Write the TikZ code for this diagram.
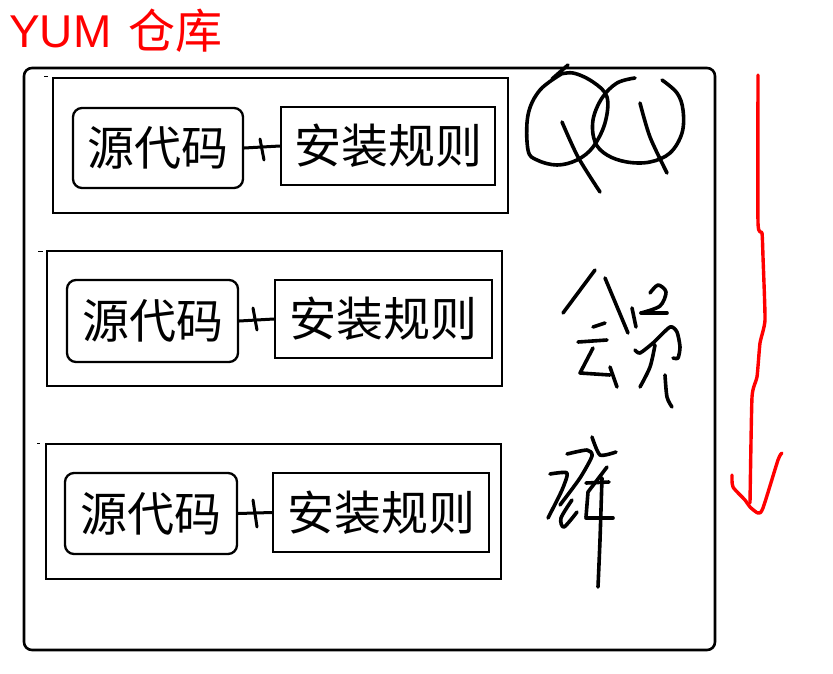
\documentclass[tikz,border=0pt]{standalone}
\usepackage{fontspec}
\setmainfont{Noto Sans CJK SC}
\newfontfamily\latinfont{Liberation Sans}
\begin{document}
\begin{tikzpicture}[x=1pt,y=-1pt,
 outerbox/.style={draw=black, line width=2.6pt, rounded corners=8pt},
 groupbox/.style={draw=black, line width=2.3pt, minimum width=455pt, minimum height=135pt, inner sep=0pt},
 srcbox/.style={draw=black, line width=2.3pt, rounded corners=9pt, inner sep=0pt, font=\fontsize{47}{50}\selectfont},
 rulebox/.style={draw=black, line width=2.3pt, inner sep=0pt, font=\fontsize{47}{50}\selectfont},
 plusline/.style={line width=3pt, line cap=round},
 ink/.style={line width=3.6pt, line cap=round, line join=round},
 redink/.style={draw=red, line width=3.4pt, line cap=round, line join=round},
 tickmark/.style={line width=1pt}
]
\useasboundingbox (0,0) rectangle (833,673);
\fill[white] (0,0) rectangle (833,673);

% title
\node[anchor=base west, text=red, inner sep=0pt, font=\latinfont\fontsize{46}{50}\selectfont] (title) at (9,47) {YUM};
\node[anchor=base west, text=red, inner sep=0pt, font=\fontsize{47}{50}\selectfont] (title2) at (128,48) {仓库};

% outer repository box
\draw[outerbox] (24,68) rectangle (715,650);

% group 1
\node[groupbox] (g1) at (280.5,145.5) {};
\node[srcbox, minimum width=170pt, minimum height=80pt] (src1) at (158,148) {源代码};
\node[rulebox, minimum width=214pt, minimum height=78pt] (rule1) at (388,146) {安装规则};
\draw[plusline] (src1.east) -- (rule1.west);
\draw[plusline] (260,139) -- (264,160);
\draw[tickmark] (44,76) -- (48,76);

% group 2
\node[groupbox] (g2) at (274.5,318.5) {};
\node[srcbox, minimum width=171pt, minimum height=82pt] (src2) at (152.5,321) {源代码};
\node[rulebox, minimum width=217pt, minimum height=78pt] (rule2) at (383.5,319) {安装规则};
\draw[plusline] (src2.east) -- (rule2.west);
\draw[plusline] (253,308) -- (257,330);
\draw[tickmark] (38,251) -- (43,251);

% group 3
\node[groupbox] (g3) at (273.5,511.5) {};
\node[srcbox, minimum width=172pt, minimum height=81pt] (src3) at (151,513.5) {源代码};
\node[rulebox, minimum width=216pt, minimum height=79pt] (rule3) at (381,512.5) {安装规则};
\draw[plusline] (src3.east) -- (rule3.west);
\draw[plusline] (253,500) -- (257,527);
\draw[tickmark] (37,443) -- (40,443);

% handwritten "QQ"
\draw[ink] plot[smooth, tension=0.6] coordinates {(563,73) (540,90) (528,115) (528,150) (537,160) (557,165) (577,160) (593,147) (605,123) (607,97) (593,82) (573,73) (557,75)};
\draw[ink] (552,79) -- (568,65);
\draw[ink] plot[smooth, tension=0.5] coordinates {(562,122) (578,157) (600,192)};
\draw[ink] plot[smooth, tension=0.6] coordinates {(635,78) (617,83) (602,98) (593,120) (595,142) (607,155) (627,162) (650,162) (670,153) (682,133) (683,110) (677,93) (662,80)};
\draw[ink] plot[smooth, tension=0.5] coordinates {(640,103) (650,137) (667,173)};

% handwritten scribble (middle)
\draw[ink] (563,313) -- (595,270);
\draw[ink] (605,278) -- (628,333);
\draw[ink] (593,327) -- (605,323);
\draw[ink] (578,342) -- (607,340);
\draw[ink] (593,348) -- (580,373) -- (610,375);
\draw[ink] (610,367) -- (617,387);
\draw[ink] (632,308) -- (636,327);
\draw[ink] plot[smooth, tension=0.5] coordinates {(650,293) (658,285) (666,292) (660,306) (641,313)};
\draw[ink] (641,313) -- (667,313);
\draw[ink] plot[smooth, tension=0.4] coordinates {(635,350) (640,353) (653,343) (670,327) (677,332) (680,347) (678,358) (673,358)};
\draw[ink] plot[smooth, tension=0.5] coordinates {(655,345) (650,367) (640,387)};
\draw[ink] plot[smooth, tension=0.5] coordinates {(665,375) (667,397) (672,407)};

% handwritten scribble (bottom)
\draw[ink] plot[smooth, tension=0.4] coordinates {(567,454) (587,450) (592,456) (580,478) (560,505)};
\draw[ink] plot[smooth, tension=0.4] coordinates {(550,474) (567,473) (562,490) (548,518)};
\draw[ink] plot[smooth, tension=0.5] coordinates {(572,500) (561,518) (564,527) (577,512)};
\draw[ink] plot[smooth, tension=0.4] coordinates {(592,437) (600,455) (616,452)};
\draw[ink] (586,483) -- (609,482);
\draw[ink] (607,467) -- (588,492) -- (586,517);
\draw[ink] (586,518) -- (613,518);
\draw[ink] plot[smooth, tension=0.3] coordinates {(602,478) (600,540) (598,587)};

% red arrow
\draw[redink] plot[smooth, tension=0.3] coordinates {(758,75) (758,223) (762,233) (763,257) (765,320) (760,343) (757,377) (752,397) (750,503)};
\draw[redink] plot[smooth, tension=0.4] coordinates {(732,475) (733,487) (745,500) (750,507) (758,513) (763,508) (778,460) (782,453)};
\end{tikzpicture}
\end{document}
